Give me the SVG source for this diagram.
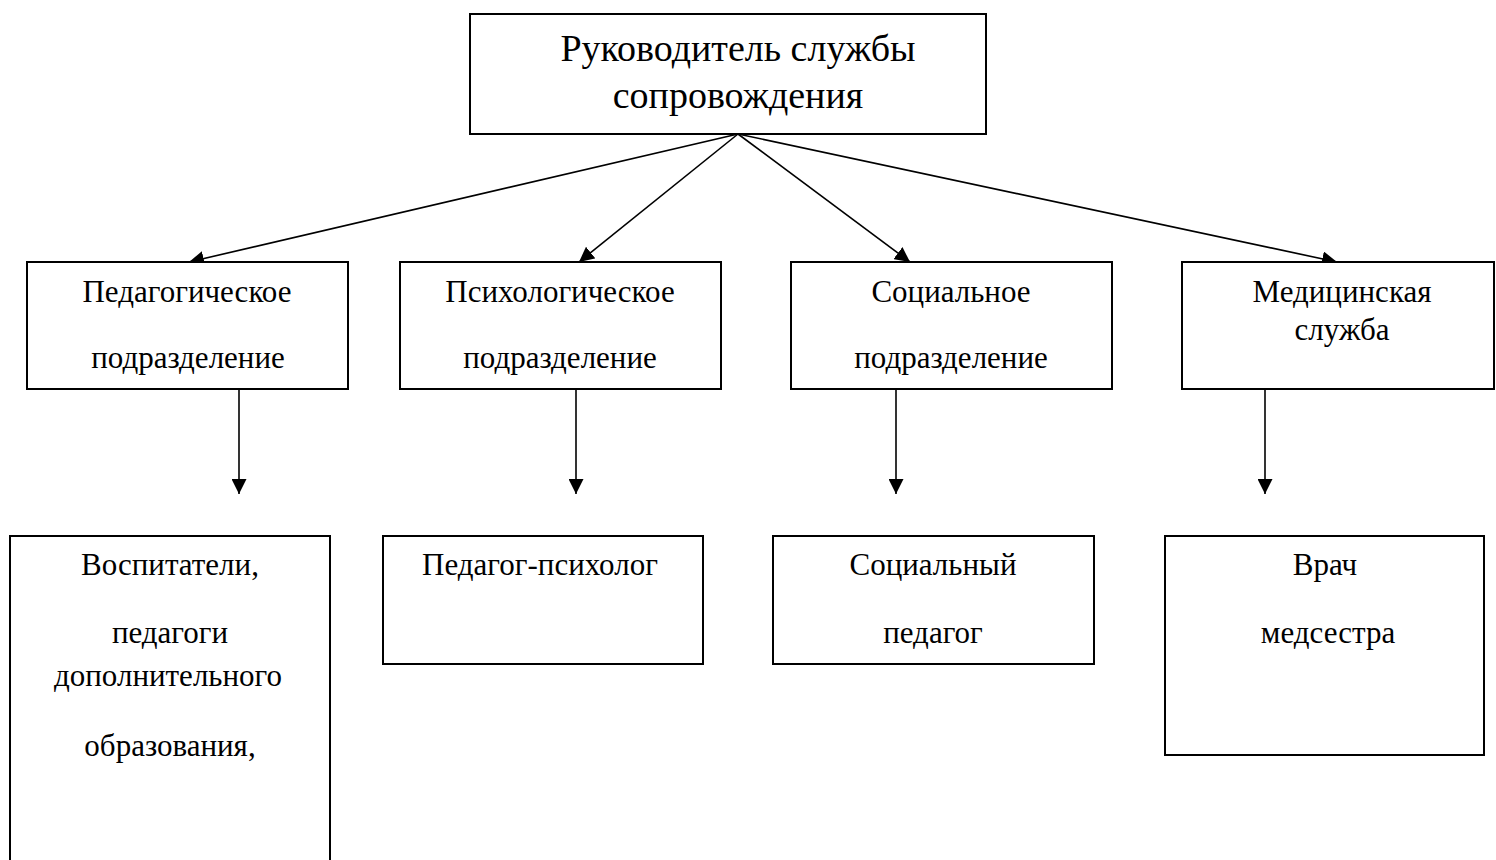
<svg xmlns="http://www.w3.org/2000/svg" width="1496" height="860" viewBox="0 0 1496 860">
<style>
.box{fill:#fff;stroke:#000;stroke-width:2}
.t{font-family:"Liberation Serif","Times New Roman",serif;font-size:31px;fill:#000;text-anchor:middle}
.tt{font-family:"Liberation Serif","Times New Roman",serif;font-size:38px;fill:#000;text-anchor:middle}
.c{stroke:#000;stroke-width:1.6;fill:none;marker-end:url(#ah)}
</style>
<defs>
<marker id="ah" viewBox="0 0 10 10" refX="10" refY="5" markerWidth="15" markerHeight="15" markerUnits="userSpaceOnUse" orient="auto">
<path d="M0,0 L10,5 L0,10 z" fill="#000"/>
</marker>
</defs>
<rect width="1496" height="860" fill="#fff"/>
<g id="connectors">
<line class="c" x1="738" y1="134" x2="189" y2="262"/>
<line class="c" x1="738" y1="134" x2="579" y2="262"/>
<line class="c" x1="738" y1="134" x2="910" y2="262"/>
<line class="c" x1="738" y1="134" x2="1337" y2="262"/>
<line class="c" x1="239" y1="383" x2="239" y2="494"/>
<line class="c" x1="576" y1="383" x2="576" y2="494"/>
<line class="c" x1="896" y1="383" x2="896" y2="494"/>
<line class="c" x1="1265" y1="383" x2="1265" y2="494"/>
</g>
<g id="top"><rect class="box" x="470" y="14" width="516" height="120"/>
<text class="tt" x="738" y="61">Руководитель службы</text>
<text class="tt" x="738" y="108">сопровождения</text></g>
<g id="ped"><rect class="box" x="27" y="262" width="321" height="127"/>
<text class="t" x="187" y="302">Педагогическое</text>
<text class="t" x="188" y="368">подразделение</text></g>
<g id="psy"><rect class="box" x="400" y="262" width="321" height="127"/>
<text class="t" x="560" y="302">Психологическое</text>
<text class="t" x="560" y="368">подразделение</text></g>
<g id="soc"><rect class="box" x="791" y="262" width="321" height="127"/>
<text class="t" x="951" y="302">Социальное</text>
<text class="t" x="951" y="368">подразделение</text></g>
<g id="med"><rect class="box" x="1182" y="262" width="312" height="127"/>
<text class="t" x="1342" y="302">Медицинская</text>
<text class="t" x="1342" y="340">служба</text></g>
<g id="vosp"><rect class="box" x="10" y="536" width="320" height="340"/>
<text class="t" x="170" y="575">Воспитатели,</text>
<text class="t" x="170" y="643">педагоги</text>
<text class="t" x="168" y="686">дополнительного</text>
<text class="t" x="170" y="756">образования,</text></g>
<g id="pedpsy"><rect class="box" x="383" y="536" width="320" height="128"/>
<text class="t" x="540" y="575">Педагог-психолог</text></g>
<g id="socped"><rect class="box" x="773" y="536" width="321" height="128"/>
<text class="t" x="933" y="575">Социальный</text>
<text class="t" x="933" y="643">педагог</text></g>
<g id="vrach"><rect class="box" x="1165" y="536" width="319" height="219"/>
<text class="t" x="1325" y="575">Врач</text>
<text class="t" x="1328" y="643">медсестра</text></g>
</svg>
